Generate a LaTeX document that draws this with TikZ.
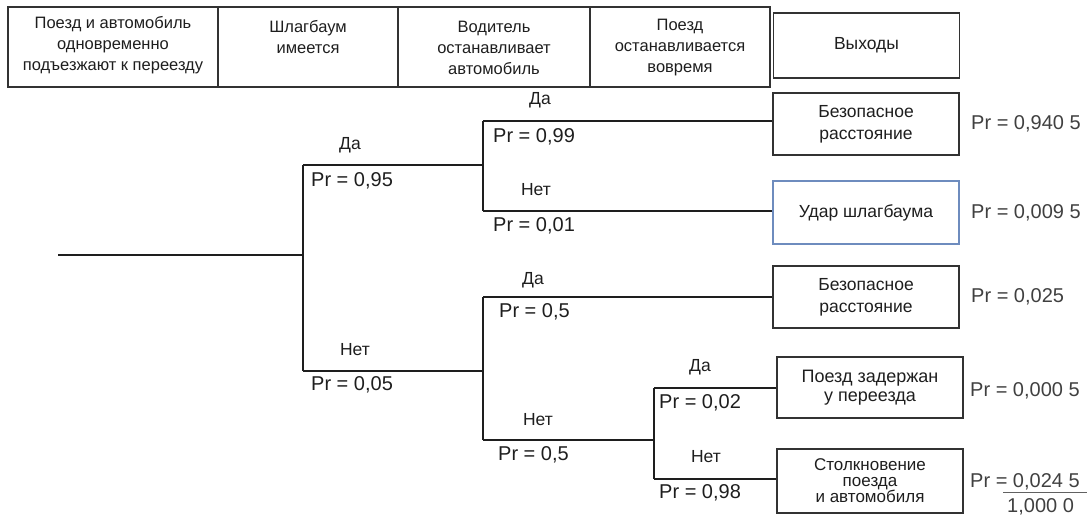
\documentclass[tikz,border=0pt]{standalone}
\usepackage{fontspec}
\setmainfont{Liberation Sans}
\definecolor{ink}{RGB}{30,30,30}
\definecolor{frame}{RGB}{50,50,50}
\definecolor{hilite}{RGB}{110,140,190}
\begin{document}
\begin{tikzpicture}[x=1pt,y=-1pt,
  branch/.style={line width=2.4pt,draw=ink},
  outbox/.style={draw=frame,line width=1.2pt,minimum width=186pt,align=center,
    inner sep=0pt,text=ink,font=\fontsize{17.5}{22}\selectfont},
  hdr/.style={align=center,inner sep=0pt,text=ink,font=\fontsize{16.5}{21}\selectfont},
  ans/.style={inner sep=0pt,text=ink,font=\fontsize{17.5}{20}\selectfont},
  prob/.style={inner sep=0pt,anchor=west,text=ink,font=\fontsize{20}{24}\selectfont},
  res/.style={inner sep=0pt,anchor=west,text=ink!85,font=\fontsize{20}{24}\selectfont}]
\useasboundingbox (0,0) rectangle (1091,517);

% header row
\draw[frame,line width=1.2pt] (8,7) rectangle (770,87);
\foreach \xx in {218,398,590} \draw[frame,line width=1.2pt] (\xx,7) -- (\xx,87);
\node[hdr] (h1) at (113,45) {Поезд и автомобиль\\одновременно\\подъезжают к переезду};
\node[hdr] (h2) at (308,37) {Шлагбаум\\имеется};
\node[hdr] (h3) at (494,48) {Водитель\\останавливает\\автомобиль};
\node[hdr] (h4) at (680,48) {Поезд\\останавливается\\вовремя};
\node[outbox,minimum height=65pt] (out) at (866.5,45.5) {Выходы};

% outcomes
\node[outbox,minimum height=62pt] (o1) at (866,124) {Безопасное\\расстояние};
\node[outbox,minimum height=63pt,draw=hilite] (o2) at (866,212.5) {Удар шлагбаума};
\node[outbox,minimum height=62pt] (o3) at (866,297) {Безопасное\\расстояние};
\node[outbox,minimum height=61pt,font=\fontsize{18}{19}\selectfont] (o4) at (870,387.5) {Поезд задержан\\у переезда};
\node[outbox,minimum height=64pt,font=\fontsize{17}{16}\selectfont] (o5) at (870,481) {Столкновение\\поезда\\и автомобиля};

% tree junctions
\coordinate (r0) at (58,255);
\coordinate (a0) at (303,255);
\coordinate (a1) at (303,165);
\coordinate (a2) at (303,371);
\coordinate (b1) at (483,165);
\coordinate (b1u) at (483,121);
\coordinate (b1d) at (483,211);
\coordinate (b2) at (483,371);
\coordinate (b2u) at (483,297);
\coordinate (b2d) at (483,440);
\coordinate (c1) at (654,440);
\coordinate (c1u) at (654,388);
\coordinate (c1d) at (654,479);

% tree branches
\draw[branch] (r0) -- (a0);
\draw[branch] (a1) -- (a2);
\draw[branch] (a1) -- (b1);
\draw[branch] (a2) -- (b2);
\draw[branch] (b1u) -- (b1d);
\draw[branch] (b2u) -- (b2d);
\draw[branch] (b1u) -- (b1u -| o1.west);
\draw[branch] (b1d) -- (b1d -| o2.west);
\draw[branch] (b2u) -- (b2u -| o3.west);
\draw[branch] (b2d) -- (c1);
\draw[branch] (c1u) -- (c1d);
\draw[branch] (c1u) -- (c1u -| o4.west);
\draw[branch] (c1d) -- (c1d -| o5.west);

% branch labels
\node[ans] (l1) at (350,145) {Да};
\node[prob] (p1) at (311,181) {Pr = 0,95};
\node[ans] (l2) at (355,350) {Нет};
\node[prob] (p2) at (311,385) {Pr = 0,05};
\node[ans] (l3) at (540,100) {Да};
\node[prob] (p3) at (493,137) {Pr = 0,99};
\node[ans] (l4) at (536,190) {Нет};
\node[prob] (p4) at (493,226) {Pr = 0,01};
\node[ans] (l5) at (533,280) {Да};
\node[prob] (p5) at (499,312) {Pr = 0,5};
\node[ans] (l6) at (538,420) {Нет};
\node[prob] (p6) at (498,455) {Pr = 0,5};
\node[ans] (l7) at (700,367) {Да};
\node[prob] (p7) at (659,403) {Pr = 0,02};
\node[ans] (l8) at (706,457) {Нет};
\node[prob] (p8) at (659,493) {Pr = 0,98};

% outcome probabilities
\node[res] (q1) at (971,124) {Pr = 0,940 5};
\node[res] (q2) at (971,213) {Pr = 0,009 5};
\node[res] (q3) at (971,297) {Pr = 0,025};
\node[res] (q4) at (970,391) {Pr = 0,000 5};
\node[res] (q5) at (970,482) {Pr = 0,024 5};
\draw[ink!70,line width=0.9pt] (1003,492) -- (1087,492);
\node[res] (tot) at (1007,507) {1,000 0};
\end{tikzpicture}
\end{document}
